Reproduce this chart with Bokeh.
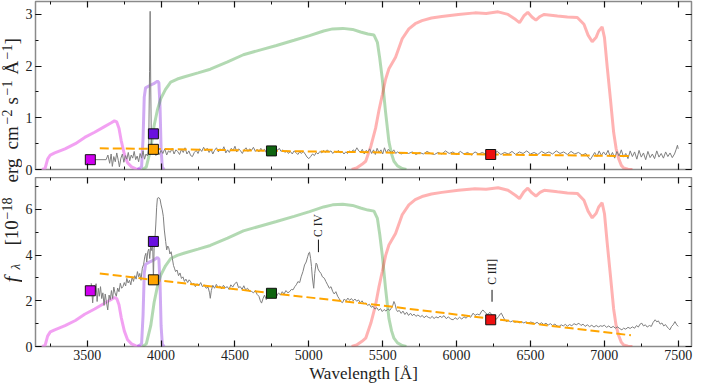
import math
from bokeh.plotting import figure
from bokeh.models import Range1d, LinearAxis, SingleIntervalTicker, Label
from bokeh.layouts import row, column
from bokeh.core.properties import value
from bokeh.embed import file_html
from bokeh.resources import INLINE

# ---------------- data ----------------
x_min, x_max = 3150, 7590
top_ymax, bot_ymax = 3.25, 7.40
top_ticks, bot_ticks = 1, 2
filter_scale_bottom = 2.28   # filter curves are drawn in top-panel units, scaled for the bottom panel

# filter transmission curves (top-panel units)
filt_u_wave = [3195, 3215, 3232, 3250, 3280, 3350, 3420, 3483, 3550, 3617, 3660, 3684, 3700, 3715, 3730, 3751, 3773, 3800, 3830, 3860]
filt_u_val = [0.0, 0.02, 0.20, 0.28, 0.32, 0.40, 0.50, 0.62, 0.72, 0.83, 0.90, 0.94, 0.92, 0.80, 0.56, 0.30, 0.13, 0.05, 0.01, 0.0]

filt_n_wave = [3840, 3868, 3878, 3886, 3895, 3920, 3950, 3975, 3985, 3993, 4000, 4008, 4020]
filt_n_val = [0.0, 0.05, 0.60, 1.40, 1.58, 1.62, 1.66, 1.71, 1.68, 1.20, 0.40, 0.05, 0.0]

filt_g_wave = [3875, 3900, 3930, 3953, 3975, 3998, 4030, 4065, 4110, 4154, 4250, 4333, 4450, 4557, 4680, 4781, 4900, 5005, 5100, 5161, 5230, 5296, 5350, 5400, 5441, 5464, 5480, 5497, 5519, 5542, 5560, 5576, 5600, 5632, 5660]
filt_g_val = [0.0, 0.05, 0.40, 0.85, 1.15, 1.37, 1.55, 1.69, 1.75, 1.79, 1.87, 1.94, 2.08, 2.22, 2.32, 2.40, 2.50, 2.59, 2.68, 2.72, 2.73, 2.71, 2.66, 2.62, 2.60, 2.46, 2.15, 1.76, 1.12, 0.54, 0.30, 0.16, 0.07, 0.02, 0.0]

filt_r_wave = [5290, 5323, 5360, 5385, 5420, 5452, 5475, 5497, 5520, 5542, 5587, 5632, 5677, 5720, 5766, 5830, 5900, 6012, 6124, 6200, 6281, 6348, 6400, 6426, 6455, 6482, 6510, 6537, 6565, 6593, 6683, 6750, 6817, 6862, 6890, 6918, 6945, 6962, 6985, 7001, 7019, 7041, 7063, 7080, 7097, 7115, 7131, 7160, 7190]
filt_r_val = [0.0, 0.03, 0.10, 0.16, 0.45, 0.80, 1.15, 1.44, 1.75, 1.95, 2.17, 2.53, 2.72, 2.82, 2.88, 2.93, 2.96, 3.00, 3.03, 3.02, 3.05, 3.00, 2.90, 2.84, 2.97, 3.04, 2.95, 2.89, 2.96, 3.00, 2.97, 2.95, 2.94, 2.81, 2.60, 2.47, 2.56, 2.68, 2.76, 2.55, 2.00, 1.37, 0.72, 0.40, 0.21, 0.08, 0.03, 0.005, 0.0]

# spectrum, top panel (wavelength, flux)
spec_top = [
    (3521, 0.19), (3628, 0.19), (3640, 0.28), (3652, 0.12), (3662, 0.30), (3670, 0.06), (3680, 0.25), (3690, 0.15),
    (3700, 0.32), (3710, 0.18), (3718, 0.05), (3728, 0.22), (3738, 0.30), (3748, 0.14), (3758, 0.27), (3768, 0.20),
    (3778, 0.33), (3788, 0.17), (3798, 0.28), (3808, 0.22), (3818, 0.35), (3828, 0.19), (3838, 0.26), (3848, 0.15),
    (3858, 0.31), (3868, 0.22), (3878, 0.36), (3888, 0.20), (3898, 0.30), (3908, 0.26), (3916, 0.42), (3922, 1.90),
    (3926, 3.06), (3930, 1.60), (3935, 0.34), (3945, 0.30), (3955, 0.38), (3965, 0.27), (3975, 0.35), (3988, 0.29),
    (4000, 0.37), (4012, 0.31), (4025, 0.40), (4038, 0.28), (4050, 0.36), (4062, 0.33), (4075, 0.41), (4088, 0.30),
    (4100, 0.38), (4112, 0.35), (4125, 0.29), (4138, 0.39), (4150, 0.33), (4162, 0.42), (4175, 0.30), (4188, 0.36),
    (4200, 0.27), (4212, 0.25), (4225, 0.33), (4238, 0.37), (4250, 0.31), (4262, 0.40), (4275, 0.35), (4288, 0.43),
    (4300, 0.36), (4312, 0.41), (4325, 0.33), (4338, 0.39), (4350, 0.30), (4362, 0.37), (4375, 0.42), (4388, 0.34),
    (4400, 0.40), (4412, 0.36), (4425, 0.44), (4438, 0.32), (4450, 0.38), (4462, 0.33), (4475, 0.41), (4488, 0.37),
    (4500, 0.45), (4512, 0.34), (4525, 0.40), (4538, 0.36), (4550, 0.31), (4562, 0.38), (4575, 0.42), (4588, 0.35),
    (4600, 0.40), (4612, 0.37), (4625, 0.43), (4638, 0.35), (4650, 0.39), (4662, 0.34), (4675, 0.41), (4688, 0.36),
    (4700, 0.39), (4712, 0.33), (4725, 0.38), (4738, 0.35), (4750, 0.37), (4762, 0.34), (4775, 0.44), (4788, 0.37),
    (4800, 0.41), (4812, 0.35), (4825, 0.38), (4838, 0.33), (4850, 0.36), (4862, 0.31), (4875, 0.35), (4888, 0.30),
    (4900, 0.36), (4912, 0.33), (4925, 0.29), (4938, 0.34), (4950, 0.31), (4962, 0.35), (4975, 0.30), (4988, 0.24),
    (5000, 0.21), (5012, 0.25), (5025, 0.30), (5038, 0.27), (5050, 0.33), (5062, 0.30), (5075, 0.35), (5088, 0.32),
    (5100, 0.37), (5112, 0.33), (5125, 0.38), (5138, 0.34), (5150, 0.36), (5162, 0.31), (5175, 0.35), (5188, 0.33),
    (5200, 0.37), (5212, 0.32), (5225, 0.35), (5238, 0.30), (5250, 0.34), (5262, 0.31), (5275, 0.36), (5288, 0.33),
    (5300, 0.38), (5312, 0.35), (5325, 0.42), (5338, 0.36), (5350, 0.33), (5362, 0.39), (5375, 0.30), (5388, 0.37),
    (5400, 0.34), (5412, 0.40), (5425, 0.31), (5438, 0.38), (5450, 0.29), (5462, 0.41), (5475, 0.33), (5488, 0.38),
    (5500, 0.30), (5512, 0.42), (5525, 0.32), (5538, 0.39), (5550, 0.35), (5562, 0.33), (5575, 0.38), (5588, 0.31),
    (5600, 0.34), (5625, 0.30), (5650, 0.33), (5675, 0.31), (5700, 0.34), (5725, 0.29), (5750, 0.33), (5775, 0.30),
    (5800, 0.35), (5825, 0.31), (5850, 0.29), (5875, 0.33), (5900, 0.30), (5925, 0.36), (5950, 0.31), (5975, 0.34),
    (6000, 0.29), (6025, 0.35), (6050, 0.30), (6075, 0.33), (6100, 0.28), (6125, 0.34), (6150, 0.30), (6175, 0.33),
    (6200, 0.29), (6225, 0.32), (6250, 0.30), (6275, 0.35), (6300, 0.29), (6325, 0.33), (6350, 0.30), (6375, 0.35),
    (6400, 0.29), (6425, 0.34), (6450, 0.31), (6475, 0.36), (6500, 0.30), (6525, 0.33), (6550, 0.29), (6575, 0.35),
    (6600, 0.31), (6625, 0.34), (6650, 0.30), (6675, 0.36), (6700, 0.31), (6725, 0.34), (6750, 0.29), (6775, 0.35),
    (6800, 0.30), (6825, 0.33), (6850, 0.28), (6875, 0.31), (6890, 0.24), (6905, 0.19), (6920, 0.26), (6935, 0.33),
    (6950, 0.25), (6965, 0.36), (6980, 0.27), (6995, 0.34), (7010, 0.28), (7025, 0.37), (7040, 0.25), (7055, 0.33),
    (7070, 0.22), (7085, 0.35), (7100, 0.26), (7115, 0.38), (7130, 0.24), (7145, 0.31), (7160, 0.21), (7175, 0.36),
    (7190, 0.25), (7205, 0.34), (7220, 0.20), (7235, 0.37), (7250, 0.24), (7265, 0.32), (7280, 0.19), (7295, 0.35),
    (7310, 0.23), (7325, 0.30), (7340, 0.21), (7355, 0.36), (7370, 0.24), (7385, 0.31), (7400, 0.22), (7415, 0.34),
    (7430, 0.25), (7445, 0.32), (7460, 0.23), (7475, 0.30), (7485, 0.38), (7495, 0.47), (7500, 0.40),
]

# spectrum, bottom panel (wavelength, flux)
spec_bot = [
    (3527, 2.77), (3537, 1.91), (3545, 2.60), (3553, 2.40), (3560, 2.75), (3567, 1.97), (3575, 2.55), (3582, 2.20),
    (3590, 2.62), (3598, 2.10), (3606, 2.35), (3614, 1.80), (3622, 2.30), (3630, 1.95), (3639, 1.60), (3648, 2.25),
    (3656, 2.05), (3664, 2.45), (3672, 2.10), (3680, 2.60), (3688, 2.35), (3697, 2.20), (3706, 2.56), (3715, 2.40),
    (3724, 2.77), (3733, 2.55), (3742, 2.62), (3751, 2.80), (3760, 2.65), (3768, 2.98), (3777, 2.78), (3786, 2.90),
    (3795, 2.70), (3804, 3.05), (3813, 2.85), (3822, 3.10), (3831, 2.95), (3840, 3.28), (3848, 3.05), (3856, 3.20),
    (3864, 2.90), (3873, 3.43), (3882, 3.60), (3890, 3.95), (3897, 4.08), (3903, 3.70), (3910, 4.15), (3917, 4.27),
    (3923, 3.85), (3930, 4.40), (3937, 4.20), (3943, 4.55), (3948, 2.95), (3953, 4.30), (3958, 4.70), (3964, 5.32),
    (3970, 6.10), (3975, 6.49), (3985, 6.52), (3993, 6.45), (4000, 6.20), (4008, 5.98), (4015, 5.70), (4022, 5.10),
    (4031, 4.60), (4038, 4.23), (4045, 4.40), (4052, 4.32), (4060, 4.05), (4068, 4.15), (4076, 3.86), (4084, 3.55),
    (4092, 3.40), (4098, 3.28), (4108, 3.35), (4118, 3.10), (4128, 3.22), (4138, 2.98), (4148, 3.05), (4158, 2.85),
    (4168, 2.95), (4180, 2.80), (4190, 2.92), (4199, 2.85), (4210, 2.70), (4220, 2.78), (4232, 2.62), (4244, 2.75),
    (4256, 2.66), (4268, 2.80), (4280, 2.62), (4292, 2.70), (4305, 2.55), (4318, 2.60), (4328, 2.35), (4333, 2.11),
    (4340, 2.45), (4350, 2.68), (4362, 2.55), (4374, 2.72), (4386, 2.58), (4398, 2.65), (4410, 2.52), (4422, 2.68),
    (4435, 2.57), (4448, 2.62), (4460, 2.50), (4472, 2.70), (4485, 2.60), (4498, 2.75), (4512, 2.82), (4524, 2.58),
    (4536, 2.62), (4548, 2.50), (4560, 2.66), (4572, 2.48), (4585, 2.55), (4598, 2.42), (4613, 2.41), (4625, 2.35),
    (4638, 2.45), (4650, 2.28), (4662, 2.20), (4672, 2.00), (4680, 1.90), (4690, 2.10), (4700, 2.25), (4712, 2.05),
    (4722, 2.30), (4735, 2.18), (4747, 2.40), (4758, 2.22), (4770, 2.30), (4782, 2.20), (4795, 2.35), (4808, 2.25),
    (4820, 2.40), (4832, 2.30), (4845, 2.45), (4858, 2.35), (4871, 2.41), (4882, 2.50), (4893, 2.48), (4905, 2.62),
    (4915, 2.70), (4926, 2.84), (4938, 2.80), (4948, 3.05), (4960, 3.28), (4971, 3.57), (4982, 3.70), (4993, 3.95),
    (5000, 4.10), (5005, 4.13), (5012, 3.85), (5018, 3.50), (5024, 3.00), (5033, 2.55), (5040, 3.20), (5049, 3.65),
    (5055, 3.60), (5062, 3.40), (5070, 3.30), (5082, 3.20), (5092, 3.05), (5105, 2.99), (5115, 2.85), (5127, 2.70),
    (5139, 2.55), (5150, 2.62), (5162, 2.40), (5172, 2.30), (5183, 2.40), (5195, 2.20), (5205, 2.10), (5216, 1.97),
    (5228, 1.92), (5240, 2.08), (5252, 2.00), (5264, 2.12), (5276, 2.02), (5288, 2.10), (5300, 2.00), (5312, 2.08),
    (5324, 1.98), (5336, 2.04), (5348, 1.92), (5360, 2.00), (5372, 1.88), (5385, 1.90), (5397, 1.80), (5410, 1.85),
    (5422, 1.72), (5435, 1.76), (5447, 1.64), (5460, 1.70), (5472, 1.58), (5485, 1.66), (5497, 1.53), (5510, 1.62),
    (5522, 1.55), (5535, 1.65), (5548, 1.58), (5560, 1.70), (5568, 1.80), (5576, 1.97), (5584, 1.85), (5592, 1.62),
    (5600, 1.53), (5612, 1.58), (5625, 1.45), (5637, 1.55), (5650, 1.40), (5662, 1.50), (5675, 1.36), (5688, 1.46),
    (5700, 1.35), (5712, 1.42), (5725, 1.32), (5738, 1.38), (5755, 1.30), (5768, 1.36), (5780, 1.26), (5795, 1.34),
    (5808, 1.28), (5822, 1.24), (5835, 1.32), (5848, 1.22), (5860, 1.30), (5875, 1.25), (5888, 1.33), (5900, 1.27),
    (5915, 1.35), (5930, 1.22), (5945, 1.30), (5960, 1.20), (5977, 1.17), (5990, 1.26), (6005, 1.19), (6020, 1.28),
    (6035, 1.20), (6050, 1.30), (6065, 1.24), (6080, 1.35), (6095, 1.28), (6112, 1.46), (6125, 1.36), (6140, 1.42),
    (6155, 1.38), (6170, 1.55), (6179, 1.60), (6188, 1.52), (6200, 1.45), (6212, 1.40), (6225, 1.50), (6240, 1.38),
    (6255, 1.25), (6270, 1.20), (6285, 1.32), (6295, 1.42), (6303, 1.46), (6315, 1.30), (6328, 1.15), (6337, 1.09),
    (6350, 1.14), (6365, 1.08), (6380, 1.12), (6395, 1.06), (6410, 1.10), (6425, 1.04), (6440, 1.09), (6455, 1.03),
    (6470, 1.08), (6485, 1.02), (6500, 1.07), (6515, 1.05), (6530, 1.00), (6545, 1.06), (6560, 0.98), (6575, 1.04),
    (6590, 0.96), (6605, 1.02), (6620, 0.94), (6635, 1.00), (6650, 0.92), (6665, 0.98), (6680, 0.90), (6694, 0.88),
    (6708, 0.95), (6722, 0.90), (6736, 0.97), (6750, 0.89), (6765, 0.96), (6780, 0.91), (6795, 1.00), (6810, 0.95),
    (6828, 1.02), (6842, 0.92), (6856, 0.98), (6870, 0.88), (6885, 0.95), (6900, 0.87), (6915, 0.93), (6930, 0.85),
    (6945, 0.92), (6960, 0.86), (6975, 0.91), (6985, 0.88), (7000, 0.93), (7015, 0.84), (7030, 0.90), (7045, 0.82),
    (7060, 0.88), (7075, 0.80), (7090, 0.86), (7105, 0.78), (7119, 0.73), (7130, 0.80), (7145, 0.76), (7160, 0.84),
    (7175, 0.79), (7190, 0.86), (7205, 0.80), (7218, 0.92), (7230, 0.85), (7242, 0.98), (7254, 1.02), (7265, 0.90),
    (7278, 0.95), (7290, 0.85), (7305, 0.92), (7318, 0.88), (7330, 1.05), (7344, 1.17), (7355, 1.08), (7366, 1.12),
    (7378, 0.98), (7390, 1.03), (7402, 0.90), (7414, 0.96), (7426, 0.85), (7436, 0.78), (7444, 0.73), (7455, 0.88),
    (7466, 0.95), (7478, 1.09), (7490, 0.95), (7500, 0.88),
]

# continuum fit (dashed)
cont_wave = [3585, 3945, 4750, 5500, 6230, 7180]
cont_top = [0.41, 0.40, 0.36, 0.33, 0.29, 0.26]
cont_bot = [3.20, 2.92, 2.33, 1.79, 1.22, 0.49]

# photometric points
phot_wave = [3521, 3948, 3948, 4747, 6231]
phot_top = [0.19, 0.69, 0.39, 0.36, 0.29]
phot_bot = [2.44, 4.60, 2.92, 2.33, 1.17]
phot_colors = ["#d000f0", "#6a10e0", "#ffa500", "#0f6410", "#ee1010"]

# emission line annotations (bottom panel)
ann_text = ["C IV", "C III]"]
ann_wave = [5065, 6240]
ann_tick_y0 = [4.13, 1.96]
ann_tick_y1 = [4.68, 2.48]
ann_text_y = [4.80, 2.70]

# y-axis label pieces: (text, page-y where the piece starts, font px, kind)
ylabel_pieces = [
    ("f", 283, 21, "italic"),
    ("λ", 270, 13, "sub"),
    ("[10", 246, 19, "normal"),
    ("−18", 220, 14, "sup"),
    ("erg", 183, 19, "normal"),
    ("cm", 150, 19, "normal"),
    ("−2", 125, 14, "sup"),
    ("s", 105, 19, "normal"),
    ("−1", 96, 14, "sup"),
    ("Å", 75, 19, "normal"),
    ("−1", 60, 14, "sup"),
    ("]", 45, 19, "normal"),
]

# ---------------- styling ----------------
FONT = "Liberation Serif"
FRAME_W = 656
TOP_H, BOT_H = 168, 169
x_range = Range1d(x_min, x_max)

filters = [
    (filt_u_wave, filt_u_val, "violet", 0.75),
    (filt_n_wave, filt_n_val, "blueviolet", 0.40),
    (filt_g_wave, filt_g_val, "green", 0.30),
    (filt_r_wave, filt_r_val, "red", 0.30),
]


def style_axis(ax, show_labels):
    ax.axis_line_color = None
    ax.major_tick_in = 6
    ax.major_tick_out = 0
    ax.minor_tick_in = 3
    ax.minor_tick_out = 0
    ax.major_tick_line_color = "#111111"
    ax.minor_tick_line_color = "#111111"
    ax.major_tick_line_width = 1.2
    ax.minor_tick_line_width = 1.0
    ax.major_label_text_font = FONT
    if show_labels:
        ax.major_label_text_font_size = "14px"
        ax.major_label_text_color = "#222222"
        ax.major_label_standoff = 3
    else:
        ax.major_label_text_font_size = "1px"
        ax.major_label_text_color = None
        ax.major_label_standoff = 0


def make_panel(ymax, yint, frame_h, fscale, spec, cont, phot, bottom):
    p = figure(frame_width=FRAME_W, frame_height=frame_h, x_range=x_range,
               y_range=Range1d(0, ymax), output_backend="svg", toolbar_location=None,
               min_border_left=10, min_border_right=2,
               min_border_top=0 if bottom else 1, min_border_bottom=0 if bottom else 8)
    p.grid.visible = False
    p.outline_line_color = "#8a8a8a"
    p.outline_line_width = 1.5
    p.background_fill_color = "white"
    p.border_fill_color = "white"

    xb = p.below[0]
    yl = p.left[0]
    xb.ticker = SingleIntervalTicker(interval=500, num_minor_ticks=2)
    yl.ticker = SingleIntervalTicker(interval=yint, num_minor_ticks=2)
    style_axis(xb, bottom)
    style_axis(yl, True)
    top_ax = LinearAxis(ticker=SingleIntervalTicker(interval=500, num_minor_ticks=2))
    right_ax = LinearAxis(ticker=SingleIntervalTicker(interval=yint, num_minor_ticks=2))
    style_axis(top_ax, False)
    style_axis(right_ax, False)
    p.add_layout(top_ax, "above")
    p.add_layout(right_ax, "right")

    if bottom:
        xb.axis_label = "Wavelength [Å]"
        xb.axis_label_text_font = FONT
        xb.axis_label_text_font_size = "17px"
        xb.axis_label_text_font_style = "normal"
        xb.axis_label_text_color = "#222222"
        xb.axis_label_standoff = 1

    for w, v, c, a in filters:
        p.line(w, [t * fscale for t in v], line_color=c, line_alpha=a, line_width=3)

    sw = [s[0] for s in spec]
    sf = [s[1] for s in spec]
    p.line(sw, sf, line_color="#7f7f7f", line_width=1)
    p.line(cont_wave, cont, line_color="#ffa500", line_width=2, line_dash="9 4")
    p.scatter(phot_wave, phot, marker="square", size=10, fill_color=phot_colors,
              line_color="#111111", line_width=1)
    return p


top = make_panel(top_ymax, top_ticks, TOP_H, 1.0, spec_top, cont_top, phot_top, False)
bot = make_panel(bot_ymax, bot_ticks, BOT_H, filter_scale_bottom, spec_bot, cont_bot, phot_bot, True)

bot.segment(x0=ann_wave, y0=ann_tick_y0, x1=ann_wave, y1=ann_tick_y1, line_color="#111111", line_width=1)
bot.text(x=ann_wave, y=ann_text_y, text=ann_text, angle=math.pi / 2, text_align="left",
         text_baseline="middle", text_font=value(FONT), text_font_size="11.5px", text_color="#222222")

# y-axis label strip spanning both panels
LW, LH = 22, 376
ORIGIN = 1   # page y of the top of the layout
lab = figure(width=LW, height=LH, x_range=Range1d(0, LW), y_range=Range1d(0, LH),
             output_backend="svg", toolbar_location=None, min_border=0)
lab.axis.visible = False
lab.grid.visible = False
lab.outline_line_color = None

x_offsets = {"normal": 11, "italic": 11, "sub": 15, "sup": 6}
for txt, py, fs, kind in ylabel_pieces:
    lab.add_layout(Label(x=x_offsets[kind], y=LH + ORIGIN - py, text=txt, angle=math.pi / 2,
                         text_align="left", text_baseline="middle", text_font=FONT,
                         text_font_size=f"{fs}px",
                         text_font_style="italic" if kind in ("italic", "sub") else "normal",
                         text_color="#222222"))

layout = row(lab, column(top, bot))
open("out.html", "w").write(file_html(layout, INLINE))
